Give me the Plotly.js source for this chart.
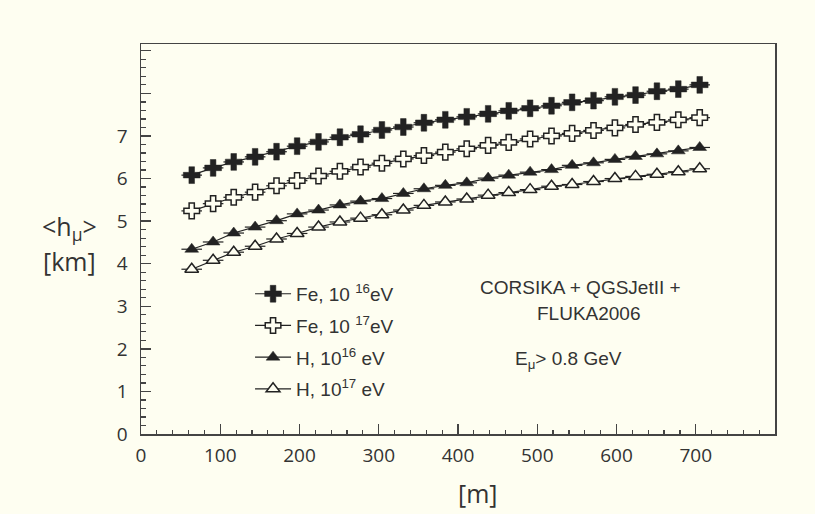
<!DOCTYPE html>
<html>
<head>
<meta charset="utf-8">
<script src="https://cdn.plot.ly/plotly-3.0.1.min.js"></script>
<style>
html, body { margin: 0; padding: 0; background: #fefef1; }
#chart { width: 815px; height: 514px; }
</style>
</head>
<body>
<div id="chart"></div>
<script>
// Lateral distance [m]
const distance = [64, 91, 117, 144, 171, 197, 224, 251, 277, 304, 331, 357, 384, 411, 438, 464, 491, 518, 544, 571, 598, 624, 651, 678, 705];
// Mean muon production height <h_mu> [km]
const fe16 = [6.08, 6.25, 6.39, 6.51, 6.63, 6.76, 6.86, 6.97, 7.04, 7.14, 7.21, 7.31, 7.38, 7.45, 7.52, 7.59, 7.65, 7.71, 7.79, 7.83, 7.92, 7.96, 8.05, 8.10, 8.20];
const fe17 = [5.24, 5.41, 5.56, 5.68, 5.83, 5.95, 6.06, 6.17, 6.27, 6.36, 6.46, 6.54, 6.62, 6.70, 6.78, 6.85, 6.93, 7.00, 7.06, 7.13, 7.19, 7.27, 7.32, 7.38, 7.43];
const h16 = [4.34, 4.51, 4.72, 4.86, 5.01, 5.17, 5.26, 5.38, 5.47, 5.53, 5.65, 5.76, 5.84, 5.90, 6.01, 6.08, 6.15, 6.21, 6.31, 6.37, 6.45, 6.52, 6.58, 6.65, 6.73];
const h17 = [3.87, 4.08, 4.27, 4.41, 4.58, 4.71, 4.86, 4.98, 5.07, 5.15, 5.26, 5.37, 5.45, 5.52, 5.61, 5.67, 5.74, 5.82, 5.86, 5.93, 6.00, 6.05, 6.10, 6.16, 6.23];
// Half bin width [m]
const binHalfWidth = 13;
const seriesNames = ['Fe, 10 <sup>16</sup>eV', 'Fe, 10 <sup>17</sup>eV', 'H, 10<sup>16</sup> eV', 'H, 10<sup>17</sup> eV'];
const yTickVals = [0, 1, 2, 3, 4, 5, 6, 7, 8, 9];
const yTickText = ['0', '1', '2', '3', '4', '5', '6', '7', '', ''];

const bg = '#fefef1';
const ink = '#222222';

function mk(y, name, symbol, filled, size, group) {
  return {
    x: distance, y: y, name: name, legendgroup: group,
    type: 'scatter', mode: 'lines+markers',
    line: { color: ink, width: 1.2 },
    marker: { symbol: symbol, size: size, color: filled ? ink : bg,
              line: { color: ink, width: filled ? 0.5 : 1.5 } },
    error_x: { type: 'constant', value: binHalfWidth, width: 0, thickness: 1.2, color: ink },
    cliponaxis: false
  };
}

const traces = [
  mk(fe16, seriesNames[0], 'cross', true, 14, 'a'),
  mk(fe17, seriesNames[1], 'cross', false, 13, 'b'),
  mk(h16, seriesNames[2], 'triangle-up', true, 12, 'c'),
  mk(h17, seriesNames[3], 'triangle-up', false, 12, 'd')
];

const tickFont = { family: 'Open Sans, sans-serif', size: 19, color: '#333' };
const txtFont = { family: 'Liberation Sans, Arial, sans-serif', size: 19, color: '#333' };
const titleFont = { family: 'Open Sans, sans-serif', size: 25, color: '#333' };

const layout = {
  width: 815, height: 514,
  margin: { l: 141, r: 40, t: 44, b: 80 },
  paper_bgcolor: bg, plot_bgcolor: bg,
  showlegend: true,
  legend: { x: 0.172, y: 0.408, xanchor: 'left', yanchor: 'top', bgcolor: 'rgba(0,0,0,0)',
            font: txtFont, tracegroupgap: 4, traceorder: 'grouped', itemwidth: 36 },
  xaxis: {
    range: [0, 800], showgrid: false, zeroline: false,
    showline: true, linecolor: '#444', linewidth: 1.5, mirror: true,
    ticks: 'inside', ticklen: 10, tickwidth: 1.3, tickcolor: '#444',
    tickmode: 'array', tickvals: [0, 100, 200, 300, 400, 500, 600, 700],
    minor: { dtick: 20, tick0: 0, ticks: 'inside', ticklen: 4.5, tickwidth: 1.2, tickcolor: '#444' },
    tickfont: tickFont, ticklabelstandoff: 4
  },
  yaxis: {
    range: [0, 9.16], showgrid: false, zeroline: false,
    showline: true, linecolor: '#444', linewidth: 1.5, mirror: true,
    ticks: 'inside', ticklen: 10, tickwidth: 1.3, tickcolor: '#444',
    tickmode: 'array', tickvals: yTickVals, ticktext: yTickText,
    minor: { dtick: 0.2, tick0: 0, ticks: 'inside', ticklen: 4.5, tickwidth: 1.2, tickcolor: '#444' },
    tickfont: tickFont, ticklabelstandoff: 8
  },
  annotations: [
    { xref: 'paper', yref: 'y', x: -0.112, y: 4.84, xanchor: 'center', yanchor: 'middle',
      text: '&lt;h<sub>μ</sub>&gt;', showarrow: false, font: titleFont },
    { xref: 'paper', yref: 'y', x: -0.112, y: 4.07, xanchor: 'center', yanchor: 'middle',
      text: '[km]', showarrow: false, font: titleFont },
    { xref: 'paper', yref: 'paper', x: 0.532, y: -0.151, xanchor: 'center', yanchor: 'middle',
      text: '[m]', showarrow: false, font: titleFont },
    { xref: 'x', yref: 'y', x: 554, y: 3.45, text: 'CORSIKA + QGSJetII +', showarrow: false, font: txtFont },
    { xref: 'x', yref: 'y', x: 565, y: 2.84, text: 'FLUKA2006', showarrow: false, font: txtFont },
    { xref: 'x', yref: 'y', x: 539, y: 1.74, text: 'E<sub>μ</sub>> 0.8 GeV', showarrow: false, font: txtFont }
  ]
};

Plotly.newPlot('chart', traces, layout, { staticPlot: true, displayModeBar: false });
</script>
</body>
</html>
